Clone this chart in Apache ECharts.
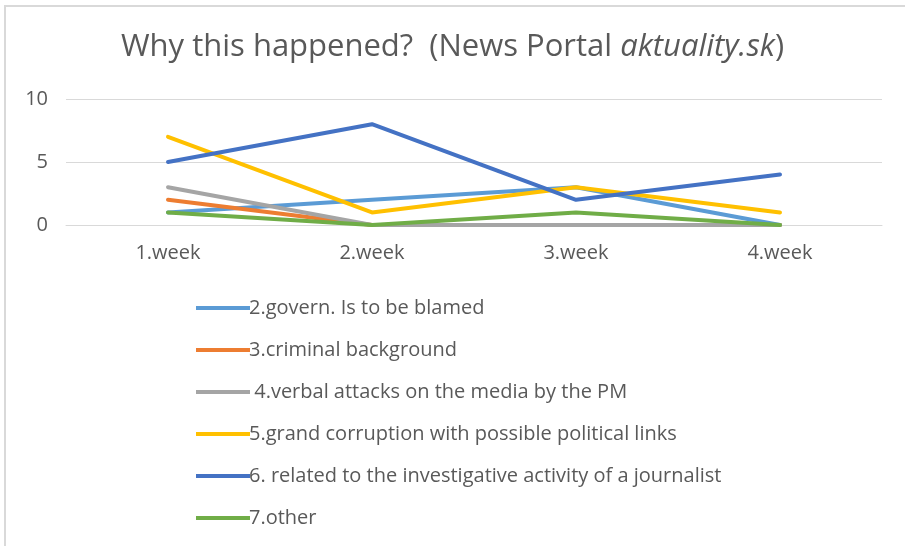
<!DOCTYPE html>
<html>
<head>
<meta charset="utf-8">
<script src="https://cdn.jsdelivr.net/npm/echarts@6/dist/echarts.min.js"></script>
<style>
  html, body { margin: 0; padding: 0; background: #fff; }
  #frame {
    position: absolute; left: 4px; top: 5px; width: 901px; height: 541px;
    border-top: 2px solid #d9d9d9; border-left: 2px solid #d9d9d9;
    box-sizing: border-box;
  }
  #chart { position: absolute; left: 0; top: 0; width: 905px; height: 546px; }
</style>
</head>
<body>
<div id="frame"></div>
<div id="chart"></div>
<script>
const weeks = ['1.week', '2.week', '3.week', '4.week']
const yTicks = [0, 5, 10]

const governBlamed = [1, 2, 3, 0]
const criminalBackground = [2, 0, 0, 0]
const verbalAttacks = [3, 0, 0, 0]
const grandCorruption = [7, 1, 3, 1]
const investigativeActivity = [5, 8, 2, 4]
const other = [1, 0, 1, 0]

const seriesNames = [
  '2.govern. Is to be blamed',
  '3.criminal background',
  ' 4.verbal attacks on the media by the PM',
  '5.grand corruption with possible political links',
  '6. related to the investigative activity of a journalist',
  '7.other'
]
const seriesData = [governBlamed, criminalBackground, verbalAttacks, grandCorruption, investigativeActivity, other]
const colors = ['#5B9BD5', '#ED7D31', '#A5A5A5', '#FFC000', '#4472C4', '#70AD47']

const font = '"Open Sans", "Liberation Sans", sans-serif'
const chart = echarts.init(document.getElementById('chart'))

chart.setOption({
  animation: false,
  color: colors,
  title: {
    text: 'Why this happened?  (News Portal {i|aktuality.sk})',
    left: 'center',
    top: 27,
    textStyle: {
      fontFamily: font,
      fontSize: 31,
      fontWeight: 'normal',
      color: '#595959',
      rich: {
        i: { fontFamily: font, fontSize: 31, fontStyle: 'italic', color: '#595959' }
      }
    }
  },
  grid: { left: 66, right: 23, top: 99, bottom: 321 },
  xAxis: {
    type: 'category',
    data: weeks,
    boundaryGap: true,
    axisLine: { lineStyle: { color: '#d9d9d9', width: 1 } },
    axisTick: { show: false },
    axisLabel: { fontFamily: font, fontSize: 20, color: '#595959', margin: 18 }
  },
  yAxis: {
    type: 'value',
    min: yTicks[0],
    max: yTicks[yTicks.length - 1],
    interval: 5,
    axisLine: { show: false },
    axisTick: { show: false },
    splitLine: { lineStyle: { color: '#d9d9d9', width: 1 } },
    axisLabel: { fontFamily: font, fontSize: 20, color: '#595959', margin: 18 }
  },
  legend: {
    orient: 'vertical',
    left: 191,
    top: 290,
    itemGap: 16,
    itemWidth: 54,
    itemHeight: 26,
    icon: 'path://M0,0 L54,0 L54,4 L0,4 Z',
    textStyle: { fontFamily: font, fontSize: 20, color: '#595959', padding: [0, 0, 0, -6], height: 26, lineHeight: 26 },
    data: seriesNames
  },
  series: seriesNames.map((name, i) => ({
    name: name,
    type: 'line',
    data: seriesData[i],
    showSymbol: false,
    symbol: 'none',
    lineStyle: { width: 4, color: colors[i], cap: 'round', join: 'round' },
    itemStyle: { color: colors[i] }
  }))
})
</script>
</body>
</html>
